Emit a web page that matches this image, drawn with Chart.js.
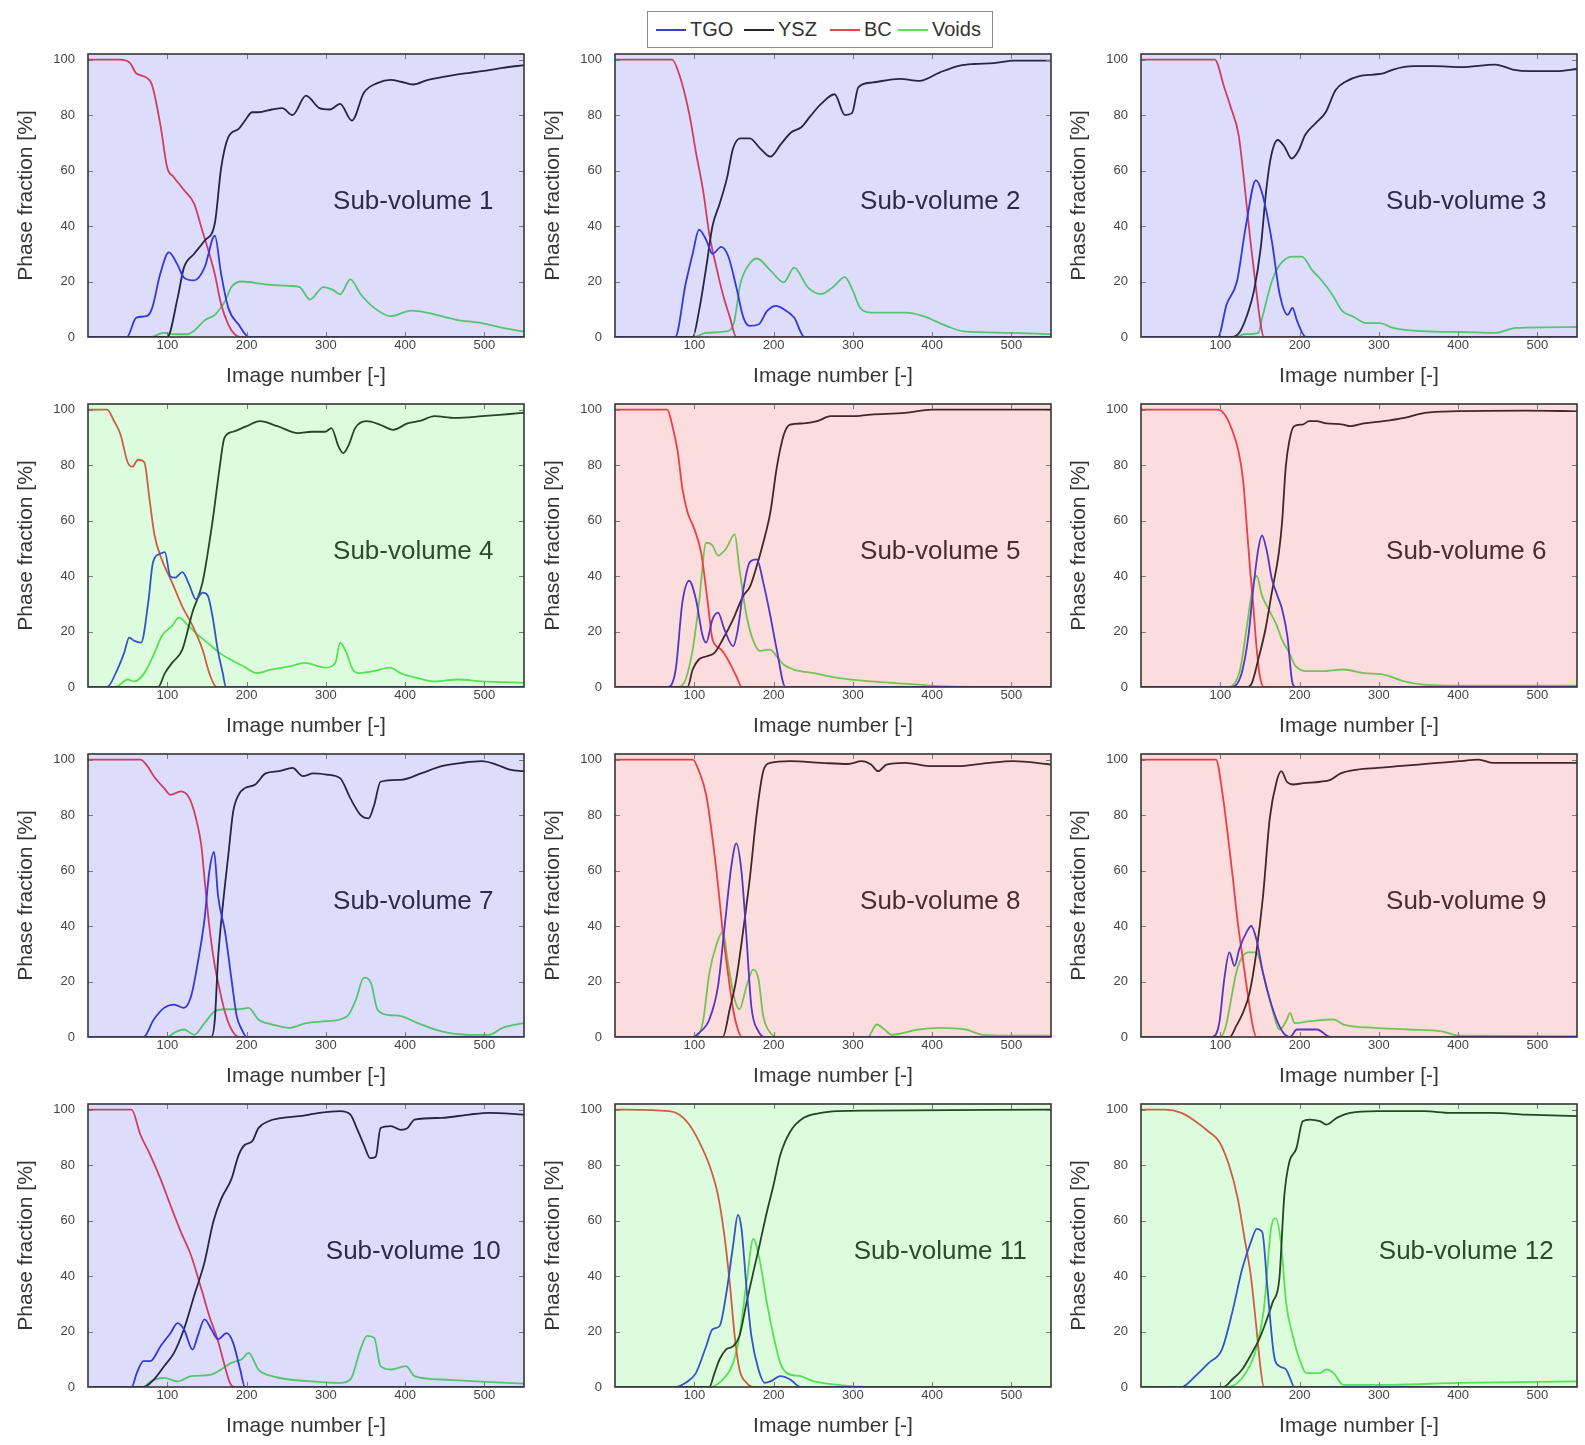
<!DOCTYPE html>
<html>
<head>
<meta charset="utf-8">
<title>Phase fraction per sub-volume</title>
<script src="https://cdn.jsdelivr.net/npm/chart.js@4/dist/chart.umd.min.js"></script>
<style>
	body { margin: 0; background: #fff; font-family: "Liberation Sans", Arial, sans-serif; }
	#page { position: relative; width: 1585px; height: 1445px; overflow: hidden; }
	.panel { position: absolute; }
	#legend { position: absolute; left: 647px; top: 11px; width: 346px; height: 37px; box-sizing: border-box; border: 1px solid #8c8c8c; background: #fff; }
	.item { position: absolute; top: 0; height: 35px; display: flex; align-items: center; font-size: 20px; color: #333; }
	.swatch { display: inline-block; width: 30px; height: 2px; margin-right: 4px; }
</style>
</head>
<body>
<div id="page">
	<div id="legend"></div>
</div>
<script>
// series: one list of [image number, phase %] per sub-volume
var tgoData = [
	[[0,0],[49,0],[61,7],[74,7.5],[81,10.5],[91,22.6],[102,30.5],[113,26],[121,21.4],[134,20.4],[147,25],[160,36.5],[168,22.6],[177,10.5],[190,4.5],[203,0],[550,0]],
	[[0,0],[76,0],[89,19],[98,30],[106,38.7],[115,35],[123,30],[134,32.5],[143,29],[153,18],[162,7],[170,4],[181,4.5],[192,9.4],[203,11.2],[213,10],[226,7],[239,0],[550,0]],
	[[0,0],[97,0],[108,11.7],[121,20],[132,39.5],[145,56.5],[153,51.6],[165,34.7],[175,15.4],[185,8],[191,10.5],[197,5.7],[208,0],[550,0]],
	[[0,0],[24,0],[37,6.3],[45.6,12.3],[52,17.8],[58.5,16.6],[67,16],[76,30.5],[82,45],[91,48],[97,48.6],[103.6,40],[110,39.4],[119,41.4],[127.5,37],[136,31.6],[144.5,34],[151,33],[157,25.6],[163.6,13.5],[170,5],[174,0],[550,0]],
	[[0,0],[66,0],[76.6,6.3],[85,30.5],[93.6,38.3],[102,31.7],[110.6,18.4],[115,16],[123,24.4],[130,26.8],[138,20.8],[149,14.7],[155,20.8],[162,35.3],[170,45],[179,46],[187,37.7],[196,25.6],[204,13.5],[215,0],[550,0]],
	[[0,0],[115,0],[127,5],[135.5,18.4],[142,36.5],[148,49.8],[152.6,54.6],[159,48.6],[165,39],[172,33],[178,28],[184.6,18.4],[191,1.5],[195,0],[550,0]],
	[[0,0],[70,0],[83,6.3],[96,10.5],[108.5,11.7],[121,10.5],[130,14.7],[138.5,26.8],[147,42.5],[153,59.5],[159,66.7],[164,51],[173,37.7],[181,20.8],[187.6,7.5],[194,2.7],[200,0],[550,0]],
	[[0,0],[98,0],[106,1.5],[119,6.3],[130,18.4],[138,39],[147,62],[153,69.8],[159.6,59.5],[166,35.3],[172,11],[181,2],[189,0],[550,0]],
	[[0,0],[90,0],[98.7,5],[105,20.8],[111.5,30.5],[118,25.6],[124,31.7],[133,37.7],[139,40],[145.5,35.3],[154,23],[162.5,13.5],[171,6.3],[179.6,1.5],[188,0],[196.6,2.7],[222,2.7],[239,0],[550,0]],
	[[0,0],[55,0],[61.5,5],[70,9.3],[78.6,9.3],[91.5,14.7],[104,19.4],[113,23],[121,20.8],[132,13.5],[138.5,18.4],[147,24.4],[155.6,20.8],[164,17.2],[175,19.4],[183,16],[192,6.3],[198,0],[550,0]],
	[[0,0],[76.6,0],[89,1.5],[102,5],[115,14.7],[123,20.8],[132,22],[140,33],[149,51],[155,62],[159.6,57],[166,35.3],[172,18.4],[181,6.3],[189,1.5],[196,2],[208.5,3.9],[221,2.7],[234,0],[550,0]],
	[[0,0],[51,0],[68.5,3.9],[85.5,8.7],[102,13.5],[115,26.8],[127.6,42.5],[140,53.4],[146,57],[153,55.8],[159.6,35.3],[168,11],[174.5,7.5],[183,6.3],[187,3.9],[193.6,0],[550,0]]
];

var yszData = [
	[[0,0],[100,0],[113,14],[121,25],[134,30],[147,34.7],[160,41],[168,61],[177,72],[190,75],[198,78],[207,81],[215,81],[232,82],[245,82.5],[258,80],[275,87],[292,82.5],[305,82],[318,84],[333,78],[348,88],[365,91.5],[382,92.7],[395,92],[410,91],[429,92.7],[463,94.5],[497,95.8],[523,97],[550,98]],
	[[0,0],[98,0],[106,9.4],[115,25],[123,40],[132,48],[141,57],[149,68],[158,71.6],[170,71.6],[183,68],[196,65],[209,69.4],[222,73.7],[235,75.6],[247,79.8],[260,84],[277,87.5],[290,80],[299,80.7],[307,90],[324,91.7],[359,93],[384,92.3],[410,95.4],[435,97.8],[453,98.4],[478,98.7],[504,99.6],[550,99.6]],
	[[0,0],[115,0],[125,2],[134,8],[142.5,16.6],[151,32],[158,53],[164,65],[172.5,71],[181,68.6],[190,64.3],[199,67.3],[207,72.8],[220,77],[233,81],[245.5,89],[258,92],[275.5,94],[293,94.6],[305.6,95],[318,96.4],[344,97.6],[370,97.6],[404,97.3],[447,98.2],[469,96.4],[490,95.8],[524.5,95.8],[550,96.6]],
	[[0,0],[88.6,0],[97,5],[106,8.7],[119,13.5],[131.6,26.8],[144.5,37.7],[157,59.5],[166,79],[172,89.7],[183,92],[200,94],[217,95.8],[239,94],[265,91.5],[282,92],[299,92],[307,93.3],[316,86.7],[322,84.3],[329,87.3],[337,93.3],[351,95.8],[368,94.6],[385,92.7],[403,95],[420,96],[437,97.6],[463,97],[497,97.6],[532,98.4],[550,98.8]],
	[[0,0],[91.5,0],[98,6.3],[106,10],[115,11],[125.5,12.3],[136,17.2],[149,24.4],[162,33],[170,36],[179,43.8],[187,52],[196,63],[204,79],[213,91],[221,94.6],[238,95],[255,95.8],[272,97.6],[298,97.6],[323,98.2],[366,98.8],[400,100],[550,100]],
	[[0,0],[135,0],[140,1.5],[148,10],[157,20.8],[165,34],[174,48.6],[178,59.5],[182.5,79],[187,88.5],[193,94],[204,94.6],[212,95.8],[221,95.8],[234,95],[255,94.6],[264,94],[281,95],[306,95.8],[332,97],[358,98.8],[400,99.4],[486,99.6],[550,99.4]],
	[[0,0],[155.5,0],[160,6.3],[164,28],[170.5,48.6],[177,65.5],[183,81],[190,87.3],[198,89.7],[211,91],[224,95],[241,95.8],[258,97],[271,94],[284,95],[301,94.6],[318,93.3],[331,86],[344,80],[354,78.8],[361,83.6],[369,92],[395,92.7],[420,95],[446,97.6],[472,98.8],[497,99.4],[515,98.2],[532,96.4],[550,95.8]],
	[[0,0],[136,0],[144.7,10],[153,20.8],[162,39],[170,57],[179,81],[187,95.8],[196,98.8],[221,99.4],[260,98.8],[294,98.4],[311,99.4],[323,98.2],[332,95.8],[342.5,98.2],[366,98.8],[400,97.6],[430,97.6],[472,98.8],[502,99.4],[550,98.2]],
	[[0,0],[112,0],[120,3.9],[128.5,8.7],[137,16],[145.5,30.5],[154,51],[162.5,79],[171,92],[177,95.8],[184,92],[192,91],[205,91.5],[226,92],[239,92.7],[252,95],[273,96.4],[299,97],[324,97.6],[350,98.2],[375,98.8],[401,99.4],[426,100],[443,98.8],[486,98.8],[550,98.8]],
	[[0,0],[70,0],[83,2.7],[96,7.5],[108.5,12.3],[121,20.8],[134,33],[147,45],[158,59.5],[168,67.8],[181,75],[190,83.6],[198,87.3],[207,88.5],[215,93.3],[228,95.8],[245,97],[267,97.6],[292,98.8],[318,99.4],[331,98.2],[339,93.3],[348,87.3],[356,82.5],[363,83],[369,93.3],[382,94],[395,92.7],[403,93.3],[412,96.4],[446,97],[481,98.2],[506,98.8],[550,98.2]],
	[[0,0],[119,0],[125.5,5],[132,10],[140,13.5],[149,14.7],[157,18.4],[166,30.5],[174.5,41.4],[183,52],[191.5,63],[200,72.8],[208.5,83.6],[221,92],[238,97],[260,98.8],[281,99.4],[323,99.6],[550,100]],
	[[0,0],[104,0],[115,2.7],[127.6,6.3],[140,12.3],[149,17.2],[157,23],[166,30.5],[174.5,39],[180.8,69],[187,81],[196,86],[204,95.8],[213,96.4],[225.5,95.8],[234,94.6],[247,97],[264,98.8],[298,99.4],[357,99.4],[391,98.8],[443,98.8],[485,98.2],[550,97.6]]
];

var bcData = [
	[[0,100],[40,100],[53,98.8],[61,95],[79,92],[91,77],[100,61],[108,57.7],[121,53],[134,48],[143,39.5],[151,32],[160,22.6],[168,11.7],[177,4.5],[185,1],[192,0],[550,0]],
	[[0,100],[72,100],[81,94.7],[94,80],[102,66.7],[111,53],[119,37],[128,25],[136,15.5],[145,7],[153,0],[550,0]],
	[[0,100],[93,100],[105,90],[113,83],[123,73],[130,56.5],[138,34.7],[145,17.8],[151,4.5],[155,0],[550,0]],
	[[0,100],[24,100],[33,95.8],[41,91],[50,81],[56,79.4],[63,81.9],[71,81],[78,66.7],[84,54.6],[93,46],[106,37.7],[119,29],[132,22],[144.5,13.5],[153,5],[162,0],[550,0]],
	[[0,100],[66,100],[72,94.6],[79,85],[85,71.6],[91.5,63],[100,57],[108.5,48.6],[117,30.5],[123,17.2],[134,13.5],[144.7,8.7],[153,3.9],[160,0],[550,0]],
	[[0,100],[97,100],[105.5,98.2],[114,93.3],[123,85],[129,74],[133,59.5],[137.6,42.5],[142,28],[146,13.5],[150,3.9],[155,0],[550,0]],
	[[0,100],[66,100],[74,98],[83,94],[96,89.7],[104,87.3],[117,88.5],[128,86],[136,79],[143,69],[147,57],[153,40],[160,25.6],[166,17.2],[173,8.7],[181,2.7],[190,0],[550,0]],
	[[0,100],[98,100],[106,95.8],[115,87.3],[123,71.6],[130,54.6],[136,37.7],[142.5,23],[149,10],[155,2.7],[160,0],[550,0]],
	[[0,100],[94.5,100],[103,87.3],[109,74],[116,57],[122,41.4],[128.5,28],[135,14.7],[141,3.9],[145.5,0],[550,0]],
	[[0,100],[55,100],[66,91],[78.6,83.6],[91.5,75],[104,65.5],[117,56],[130,47.4],[143,35.3],[153,25.6],[164,16.6],[172.6,7.5],[179,1.5],[185,0],[550,0]],
	[[0,100],[68,99.4],[81,98.2],[93.6,94.6],[106,88.5],[119,80],[130,69],[138,54.6],[144.7,37.7],[151,18.4],[157,6.3],[166,1.5],[174.5,0],[550,0]],
	[[0,100],[30,100],[51,98.8],[68.5,95.8],[85.5,92],[98.5,88.5],[111,80],[122,68],[130,54.6],[138.6,40],[145,23],[151,6.3],[155,0],[550,0]]
];

var voidsData = [
	[[0,0],[80,0],[95,1.5],[110,1],[125,1],[135,2.5],[147,6],[160,8],[173,13],[181,18],[194,20],[224,19],[254,18.4],[267,18],[280,13.5],[297,18],[309,17],[318,15.4],[331,20.8],[344,15.4],[361,10.5],[382,7.5],[408,9.5],[429,8.7],[463,6.3],[497,5],[523,3.3],[550,2]],
	[[0,0],[100,0],[115,1.5],[140,2],[150,5],[158,19],[170,26.5],[179,28.3],[196,24],[213,19.7],[226,25],[243,18],[260,15.5],[275,18],[290,21.6],[300,16.7],[309,10.6],[324,8.8],[367,8.8],[388,7.6],[418,4],[440,2],[495,1.5],[550,1]],
	[[0,0],[120,0],[130,1],[148,1.5],[153,7],[165,20],[175,26],[191,29],[203,29],[216,24],[229,20],[241,15.4],[254,9.3],[267,7.5],[284,5],[301,5],[318,3.3],[361,2],[404,1.8],[447,1.5],[473,3.3],[550,3.6]],
	[[0,0],[35,0],[50,2.7],[58.5,2],[71,5],[84,12.3],[93,18.4],[106,22],[114.5,25],[127,22],[140,18.4],[153,15.4],[166,12.3],[179,10],[196,7.5],[213,5],[231,6.3],[256,7.5],[273,8.7],[299,7],[312,8.7],[318,16],[325,13],[334,6.3],[342,5],[360,5.7],[381,7],[394,5],[415,3.3],[437,2],[467,2.7],[497,2],[550,1.5]],
	[[0,0],[80,0],[89,2.7],[98,13.5],[106,30.5],[115,52],[123,51],[130,47.4],[140,49.8],[151,55],[157,42.5],[166,25.6],[174.5,16.6],[183,13],[196,13.5],[204,11],[213,8],[225.5,6.3],[251,5],[281,3.3],[323,2],[366,1.2],[408,0.3],[450,0],[550,0]],
	[[0,0],[110,0],[125,6.3],[133,20.8],[142,37.7],[146,40],[152.6,33],[161,28],[170,23],[178,17],[187,12.3],[195,7.5],[212,5.7],[229.5,5.7],[255,6.3],[281,5],[306,4.5],[332,2],[358,0.8],[400,0.5],[550,0.5]],
	[[0,0],[100,0],[108.5,1.5],[121,2.7],[134,0.8],[147,5],[160,9.3],[173,10],[190,10],[202.6,10.5],[215,6.3],[232.5,4.5],[254,3.3],[275,5],[301,5.7],[327,7.5],[338,13.5],[348,21.4],[357,19.4],[365,10],[378,8],[395,7.5],[416,5],[446,2],[480,0.8],[506,0.8],[523,3.3],[550,5]],
	[[0,0],[100,0],[110.6,5],[119,23],[127.6,33],[136,38],[142.5,26.8],[151,13.5],[157,10],[166,18.4],[174.5,24.4],[181,20.8],[187,7.5],[196,1.5],[204,0],[320,0],[323,1.5],[330,4.5],[340,2.7],[349,0.8],[383,2.7],[408.5,3.3],[442.5,2.7],[464,0.8],[494,0.5],[550,0.5]],
	[[0,0],[100,0],[107,3.9],[113.6,13.5],[120,23],[126,28],[135,30.5],[145.5,30.5],[154,23],[164.7,11],[175,2.7],[184,6.3],[188,8.7],[194,5],[213.6,5.7],[243,6.3],[256,4.5],[294.5,3.3],[337,2.7],[379.6,2],[401,0.5],[550,0.3]],
	[[0,0],[70,0],[78.6,2],[96,3.3],[113,2],[130,3.9],[155.6,4.5],[181,8.7],[194,10],[202.6,12.3],[215,6.3],[232.5,3.9],[254,2.7],[284,2],[318,1.5],[331,2.7],[343.6,13.5],[352,18.4],[361,17.8],[369,7.5],[382,6.3],[401,7.5],[412,3.9],[446,2.7],[489,2],[550,1.2]],
	[[0,0],[120,0],[136,2.7],[149,8.7],[157,18.4],[166,37.7],[174.5,53.4],[183,45],[191.5,30.5],[200,18.4],[208.5,8.7],[217,5],[234,3.9],[251,2],[281,0.8],[323,0],[550,0]],
	[[0,0],[110,0],[132,5],[145,13.5],[155,28],[164,57],[170,60.8],[177,51],[183,30.5],[191.5,18.4],[200,10],[208.5,5],[225.5,5],[234,6.3],[243,5],[255,0.8],[315,0.8],[400,1.5],[550,2]]
];

var seriesNames = ['TGO', 'YSZ', 'BC', 'Voids'];
var seriesColors = ['rgb(58,58,226)', 'rgb(40,40,40)', 'rgb(238,68,78)', 'rgb(95,225,95)'];
var panelTints = ['blue', 'blue', 'blue', 'green', 'red', 'red', 'blue', 'red', 'red', 'blue', 'green', 'green'];
var xTicks = [100, 200, 300, 400, 500];
var yTicks = [0, 20, 40, 60, 80, 100];

var tintColors = {
	blue: 'rgba(30,30,230,0.15)',
	red: 'rgba(235,30,30,0.15)',
	green: 'rgba(30,235,30,0.15)'
};

var colLeft = [88, 615, 1141];
var rowTop = [54, 404, 754, 1104];
var plotW = 436, plotH = 283;
var axisW = 88, axisH = 56, padTop = 22, padRight = 8;

Chart.defaults.font.family = '"Liberation Sans", Arial, sans-serif';

var panelPlugin = {
	id: 'panel',
	afterDatasetsDraw: function(chart, args, opts) {
		var ctx = chart.ctx;
		var a = chart.chartArea;
		var xs = chart.scales.x, ys = chart.scales.y;
		ctx.save();
		ctx.fillStyle = '#303030';
		ctx.font = '26px "Liberation Sans", Arial, sans-serif';
		ctx.textAlign = 'center';
		ctx.textBaseline = 'middle';
		ctx.fillText(opts.label, a.left + a.width * 0.746, a.top + a.height * 0.523);

		ctx.fillStyle = tintColors[opts.tint];
		ctx.fillRect(a.left, a.top, a.width, a.height);

		// small inward ticks on all four sides
		ctx.strokeStyle = '#7a7a7a';
		ctx.lineWidth = 1;
		ctx.beginPath();
		for (var i = 0; i < xTicks.length; i++) {
			var px = Math.round(xs.getPixelForValue(xTicks[i])) + 0.5;
			ctx.moveTo(px, a.bottom); ctx.lineTo(px, a.bottom - 5);
			ctx.moveTo(px, a.top); ctx.lineTo(px, a.top + 5);
		}
		for (var j = 1; j < yTicks.length; j++) {
			var py = Math.round(ys.getPixelForValue(yTicks[j])) + 0.5;
			ctx.moveTo(a.left, py); ctx.lineTo(a.left + 5, py);
			ctx.moveTo(a.right, py); ctx.lineTo(a.right - 5, py);
		}
		ctx.stroke();

		ctx.strokeStyle = '#353535';
		ctx.lineWidth = 1.6;
		ctx.strokeRect(a.left, a.top, a.width, a.height);
		ctx.restore();
	}
};

function toPoints(list) {
	var pts = [];
	for (var i = 0; i < list.length; i++)
		pts.push({x: list[i][0], y: list[i][1]});
	return pts;
}

function createPanel(n) {
	var col = n % 3;
	var row = Math.floor(n / 3);
	var holder = document.createElement('div');
	holder.className = 'panel';
	holder.style.left = (colLeft[col] - axisW) + 'px';
	holder.style.top = (rowTop[row] - padTop) + 'px';
	var canvas = document.createElement('canvas');
	canvas.width = axisW + plotW + padRight;
	canvas.height = padTop + plotH + axisH;
	holder.appendChild(canvas);
	document.getElementById('page').appendChild(holder);

	var all = [tgoData[n], yszData[n], bcData[n], voidsData[n]];
	var datasets = [];
	for (var s = 0; s < all.length; s++) {
		datasets.push({
			label: seriesNames[s],
			data: toPoints(all[s]),
			borderColor: seriesColors[s],
			borderWidth: 1.8,
			pointRadius: 0,
			fill: false,
			cubicInterpolationMode: 'monotone'
		});
	}

	new Chart(canvas, {
		type: 'line',
		data: { datasets: datasets },
		plugins: [panelPlugin],
		options: {
			responsive: false,
			animation: false,
			events: [],
			layout: { padding: { left: 0, right: padRight, top: padTop, bottom: 0 } },
			plugins: {
				legend: { display: false },
				tooltip: { enabled: false },
				panel: { label: 'Sub-volume ' + (n + 1), tint: panelTints[n] }
			},
			scales: {
				x: {
					type: 'linear',
					min: 0,
					max: 550,
					grid: { display: false, drawTicks: false },
					border: { display: false },
					ticks: {
						stepSize: 100,
						includeBounds: false,
						autoSkip: false,
						maxRotation: 0,
						padding: 1,
						color: '#454545',
						font: { size: 13 },
						callback: function(v) { return v === 0 ? '' : v; }
					},
					title: { display: true, text: 'Image number [-]', color: '#353535', font: { size: 21 }, padding: { top: 0, bottom: 4 } },
					afterFit: function(scale) { scale.height = axisH; }
				},
				y: {
					type: 'linear',
					min: 0,
					max: 102,
					grid: { display: false, drawTicks: false },
					border: { display: false },
					ticks: {
						stepSize: 20,
						includeBounds: false,
						padding: 13,
						color: '#454545',
						font: { size: 13 }
					},
					title: { display: true, text: 'Phase fraction [%]', color: '#353535', font: { size: 21 }, padding: { top: 14, bottom: 0 } },
					afterFit: function(scale) { scale.width = axisW; }
				}
			}
		}
	});
}

function buildLegend() {
	var box = document.getElementById('legend');
	var lefts = [8, 96, 182, 250];
	for (var i = 0; i < seriesNames.length; i++) {
		var item = document.createElement('div');
		item.className = 'item';
		item.style.left = lefts[i] + 'px';
		var sw = document.createElement('span');
		sw.className = 'swatch';
		sw.style.background = seriesColors[i];
		var txt = document.createElement('span');
		txt.textContent = seriesNames[i];
		item.appendChild(sw);
		item.appendChild(txt);
		box.appendChild(item);
	}
}

buildLegend();
for (var k = 0; k < 12; k++)
	createPanel(k);
</script>
</body>
</html>
